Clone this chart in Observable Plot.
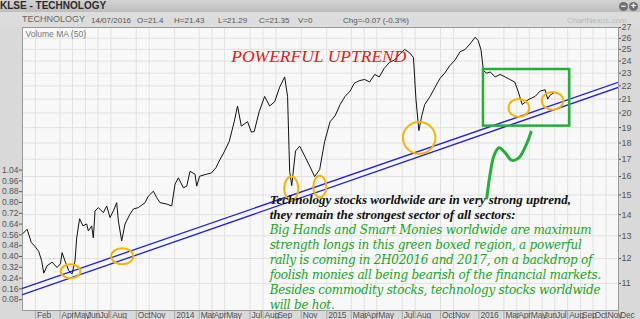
<!DOCTYPE html>
<html>
<head>
<meta charset="utf-8">
<script src="https://cdn.jsdelivr.net/npm/d3@7"></script>
<script src="https://cdn.jsdelivr.net/npm/@observablehq/plot@0.6"></script>
<style>
  html, body { margin: 0; padding: 0; }
  body { width: 640px; height: 319px; overflow: hidden; background: #d9d9d9; font-family: "Liberation Sans", Arial, sans-serif; }
  #bar1 { position: relative; height: 12px; background: linear-gradient(#d2d2d2, #bdbdbd); }
  #bar1 .ttl { position: absolute; left: 0; top: 0; font-size: 10px; line-height: 12px; font-weight: bold; color: #2a2a2a; }
  .btn { position: absolute; top: 2px; width: 9px; height: 9px; border-radius: 50%; background: #6f6f6f; color: #fff; font-size: 9px; line-height: 9px; text-align: center; font-weight: bold; }
  #bar2 { position: relative; height: 15px; background: #dcdcdc; color: #555; font-size: 8px; }
  #bar2 span { position: absolute; top: 3px; line-height: 11px; white-space: nowrap; }
  #chart { position: relative; width: 640px; height: 292px; }
</style>
</head>
<body>
<div id="bar1"><span class="ttl">KLSE - TECHNOLOGY</span><span class="btn" style="left:619px">&minus;</span><span class="btn" style="left:629px">+</span></div>
<div id="bar2"></div>
<div id="chart"></div>
<script>
// ---------- data ----------
const headerItems = ["TECHNOLOGY", "14/07/2016", "O=21.4", "H=21.43", "L=21.29", "C=21.35", "V=0", "Chg=-0.07 (-0.3%)"];
const brand = "ChartNexus.com";

const dates = [
  "2013-01-02","2013-01-12","2013-01-22","2013-02-01","2013-02-09","2013-02-16","2013-02-21","2013-03-01",
  "2013-03-13","2013-03-25","2013-04-02","2013-04-06","2013-04-14","2013-04-22","2013-04-30","2013-05-07",
  "2013-05-11","2013-05-18","2013-05-26","2013-06-04","2013-06-08","2013-06-16","2013-06-20","2013-06-24",
  "2013-07-02","2013-07-14","2013-07-22","2013-07-30","2013-08-07","2013-08-15","2013-08-19","2013-08-27",
  "2013-09-04","2013-09-16","2013-09-24","2013-10-06","2013-10-22","2013-10-30","2013-11-11","2013-11-19",
  "2013-11-27","2013-12-13","2013-12-25","2014-01-02","2014-01-10","2014-01-22","2014-01-30","2014-02-07",
  "2014-02-19","2014-02-23","2014-03-02","2014-03-18","2014-03-30","2014-04-10","2014-04-18","2014-05-01",
  "2014-05-12","2014-05-24","2014-06-01","2014-06-10","2014-06-25","2014-07-04","2014-07-11","2014-07-23",
  "2014-08-05","2014-08-17","2014-08-29","2014-09-10","2014-09-22","2014-09-29","2014-10-04","2014-10-09",
  "2014-10-18","2014-10-28","2014-11-09","2014-11-21","2014-12-03","2014-12-15","2014-12-27","2015-01-09",
  "2015-01-21","2015-02-02","2015-02-14","2015-02-26","2015-03-08","2015-03-20","2015-04-02","2015-04-14",
  "2015-04-26","2015-05-07","2015-05-19","2015-06-01","2015-06-13","2015-06-25","2015-07-07","2015-07-19",
  "2015-07-28","2015-08-03","2015-08-10","2015-08-17","2015-08-24","2015-09-06","2015-09-18","2015-09-30",
  "2015-10-11","2015-10-23","2015-11-05","2015-11-17","2015-11-29","2015-12-11","2015-12-23","2015-12-30",
  "2016-01-06","2016-01-12","2016-01-20","2016-01-28","2016-02-09","2016-02-21","2016-03-04","2016-03-15",
  "2016-03-27","2016-04-04","2016-04-14","2016-04-22","2016-04-28","2016-05-15","2016-05-27","2016-06-08",
  "2016-06-14","2016-06-20","2016-07-01","2016-07-14"
];
const closes = [
  13.1, 13.3, 12.7, 12.5, 12.3, 11.9, 11.4, 11.7,
  11.85, 11.63, 11.78, 12.25, 11.85, 11.5, 11.37, 11.9,
  12.9, 13.8, 13.46, 13.55, 13.22, 13.46, 12.9, 14.18,
  14.35, 14.1, 14.43, 13.86, 14.18, 14.6, 13.69, 12.77,
  13.55, 14.03, 14.28, 14.35, 14.6, 14.94, 15.2, 14.86,
  14.6, 14.53, 14.43, 15.58, 15.93, 15.38, 15.47, 16.3,
  16.13, 15.47, 16.02, 16.13, 16.2, 16.5, 16.9, 17.5,
  18.1, 19.4, 20.5, 19.1, 19.4, 18.7, 18.75, 20.1,
  21.2, 20.5, 20.8, 21.9, 22.7, 21.2, 16.3, 15.5,
  17.5, 17.8, 17.2, 16.6, 16.0, 16.4, 18.1, 19.4,
  19.8, 20.6, 21.2, 21.6, 22.2, 22.4, 22.5, 22.3,
  22.9, 22.7, 23.4, 23.9, 24.1, 24.6, 25.0, 24.7,
  24.3, 21.0, 18.8, 19.8, 20.6, 21.2, 21.9, 22.6,
  23.0, 23.6, 24.1, 24.8, 25.0, 25.5, 26.1, 25.8,
  25.0, 23.2, 23.0, 23.1, 22.7, 22.9, 22.7, 22.5,
  22.3, 21.6, 20.6, 20.8, 20.95, 21.2, 21.6, 21.7,
  21.0, 21.3, 21.5, 21.35
];

const tickDates = [
  "2013-02-01","2013-04-01","2013-05-01","2013-06-01","2013-07-01","2013-08-01","2013-10-01","2013-11-01",
  "2014-01-01","2014-03-01","2014-04-01","2014-05-01","2014-07-01","2014-08-01","2014-09-01","2014-11-01",
  "2015-01-01","2015-03-01","2015-04-01","2015-05-01","2015-07-01","2015-08-01","2015-10-01","2015-11-01",
  "2016-01-01","2016-03-01","2016-04-01","2016-05-01","2016-06-01","2016-07-01","2016-08-01","2016-09-01",
  "2016-10-01","2016-11-01","2016-12-01"
];
const tickLabels = [
  "Feb","Apr","May","Jun","Jul","Aug","Oct","Nov",
  "2014","Mar","Apr","May","Jul","Aug","Sep","Nov",
  "2015","Mar","Apr","May","Jul","Aug","Oct","Nov",
  "2016","Mar","Apr","May","Jun","Jul","Aug","Sep",
  "Oct","Nov","Dec"
];
const priceTicks = [11,12,13,14,15,16,17,18,19,20,21,22,23,24,25,26,27];
const volumeTicks = [0.08,0.16,0.24,0.32,0.40,0.48,0.56,0.64,0.72,0.80,0.88,0.96,1.04];

// support trend channel (two parallel lines)
const trendUpper = [{date: "2013-01-01", price: 10.81}, {date: "2016-12-01", price: 22.28}];
const trendLower = [{date: "2013-01-01", price: 10.57}, {date: "2016-12-01", price: 21.89}];

// orange rings around the touches
const rings = [
  {x1: "2013-04-04", x2: "2013-05-21", y1: 11.18, y2: 11.74},
  {x1: "2013-08-03", x2: "2013-09-25", y1: 11.74, y2: 12.42},
  {x1: "2014-09-22", x2: "2014-10-26", y1: 14.68, y2: 15.97},
  {x1: "2014-12-01", x2: "2015-01-01", y1: 14.84, y2: 16.02},
  {x1: "2015-07-04", x2: "2015-09-20", y1: 17.30, y2: 19.35},
  {x1: "2016-03-13", x2: "2016-05-02", y1: 19.69, y2: 20.98},
  {x1: "2016-06-01", x2: "2016-07-23", y1: 20.20, y2: 21.50}
];
const greenBox = [{x1: "2016-01-12", x2: "2016-08-06", y1: 19.1, y2: 23.3}];
const hookDates = ["2016-01-20","2016-01-27","2016-02-06","2016-02-18","2016-03-04","2016-03-19","2016-04-05","2016-04-22","2016-05-05"];
const hookPrices = [14.84, 16.0, 17.2, 17.7, 17.4, 16.95, 17.07, 17.8, 18.7];

const titleNote = {text: "POWERFUL UPTREND", date: "2014-12-13", price: 24.4};
const noteHead = [
  "Technology stocks worldwide are in very strong uptrend,",
  "they remain the strongest sector of all sectors:"
];
const noteBody = [
  "Big Hands and Smart Monies worldwide are maximum",
  "strength longs in this green boxed region, a powerful",
  "rally is coming in 2H02016 and 2017, on a backdrop of",
  "foolish monies all being bearish of the financial markets.",
  "Besides commodity stocks, technology stocks worldwide",
  "will be hot."
];
const noteAnchor = {date: "2014-08-17", headPrice: 15.1, bodyPrice: 13.6};

// ---------- build ----------
const P = d3.utcParse("%Y-%m-%d");
const prices = dates.map((d, i) => ({date: P(d), close: closes[i]}));
const ticks = tickDates.map(P);
const labelOf = new Map(ticks.map((d, i) => [+d, tickLabels[i]]));
const toPts = arr => arr.map(d => ({date: P(d.date), price: d.price}));
const toBox = arr => arr.map(d => ({x1: P(d.x1), x2: P(d.x2), y1: d.y1, y2: d.y2}));
const hook = hookDates.map((d, i) => ({date: P(d), price: hookPrices[i]}));

const bar2 = document.getElementById("bar2");
const hx = [22, 91, 137, 174, 218, 259, 298, 343];
headerItems.forEach((t, i) => {
  const s = document.createElement("span");
  s.textContent = t; s.style.left = hx[i] + "px";
  if (i === 0) { s.style.fontSize = "9px"; s.style.top = "2px"; s.style.color = "#666"; }
  bar2.appendChild(s);
});
const b = document.createElement("span");
b.textContent = brand; b.style.left = "567px"; b.style.color = "#b9b9b9"; bar2.appendChild(b);

const common = {
  width: 640, height: 292,
  marginLeft: 22, marginRight: 22, marginTop: 0, marginBottom: 9
};
const serifFont = "'DejaVu Serif', 'Liberation Serif', serif";

const main = Plot.plot({
  ...common,
  style: {background: "transparent", overflow: "visible", fontFamily: "'Liberation Sans', Arial, sans-serif"},
  x: {type: "utc", domain: [P("2013-01-01"), P("2016-12-01")]},
  y: {type: "log", domain: [10, 27]},
  marks: [
    Plot.frame({fill: "#f8f8f8", stroke: null}),
    Plot.gridX({ticks, stroke: "#e1e1e1", strokeOpacity: 1}),
    Plot.gridY({ticks: priceTicks, stroke: "#e1e1e1", strokeOpacity: 1}),
    Plot.frame({stroke: "#9a9a9a"}),
    Plot.axisX({ticks, tickFormat: () => "", tickSize: 9, color: "#a8a8a8"}),
    Plot.axisX({ticks, tickFormat: d => labelOf.get(+d), tickSize: 0, tickPadding: 1, textAnchor: "start", dx: 1.5, fontSize: 8.5, color: "#555", className: "xlab"}),
    Plot.axisY({anchor: "right", ticks: priceTicks, tickFormat: d => String(d), tickSize: 2, tickPadding: 1, fontSize: 9, color: "#555"}),
    Plot.line(toPts(trendUpper), {x: "date", y: "price", stroke: "#1f1fe8", strokeWidth: 1.3, clip: true}),
    Plot.line(toPts(trendLower), {x: "date", y: "price", stroke: "#1f1fe8", strokeWidth: 1.3, clip: true}),
    Plot.line(prices, {x: "date", y: "close", stroke: "#111", strokeWidth: 1}),
    Plot.rect(toBox(rings), {x1: "x1", x2: "x2", y1: "y1", y2: "y2", rx: 100, ry: 100, fill: "none", stroke: "#f5b400", strokeWidth: 2}),
    Plot.rect(toBox(greenBox), {x1: "x1", x2: "x2", y1: "y1", y2: "y2", fill: "none", stroke: "#22b03a", strokeWidth: 2.5}),
    Plot.line(hook, {x: "date", y: "price", curve: "catmull-rom", stroke: "#22b03a", strokeWidth: 3, strokeLinecap: "round"}),
    Plot.text([titleNote], {x: d => P(d.date), y: "price", text: "text", fill: "#e31b1b", fontSize: 17.5, fontStyle: "italic", fontFamily: "'Liberation Serif', serif", textAnchor: "middle"}),
    Plot.text([noteHead.join("\n")], {x: () => P(noteAnchor.date), y: () => noteAnchor.headPrice, text: d => d, textAnchor: "start", lineAnchor: "top", lineHeight: 1.15, fontSize: 13, fontWeight: "bold", fontStyle: "italic", fontFamily: "'Liberation Serif', serif", fill: "#111"}),
    Plot.text([noteBody.join("\n")], {x: () => P(noteAnchor.date), y: () => noteAnchor.bodyPrice, text: d => d, textAnchor: "start", lineAnchor: "top", lineHeight: 1.25, fontSize: 12, fontStyle: "italic", fontFamily: serifFont, fill: "#17a51c", className: "body"})
  ]
});
main.querySelectorAll(".xlab text").forEach(t => t.setAttribute("letter-spacing", "-0.2"));
main.querySelectorAll(".body text").forEach(t => t.setAttribute("letter-spacing", "-0.25"));

const vol = Plot.plot({
  ...common,
  style: {background: "transparent", overflow: "visible", position: "absolute", left: "0px", top: "0px", fontFamily: "'Liberation Sans', Arial, sans-serif"},
  y: {domain: [0, 2.096]},
  marks: [
    Plot.axisY({anchor: "left", ticks: volumeTicks, tickFormat: d3.format(".2f"), tickSize: 3, tickPadding: 1, fontSize: 8.5, color: "#555"}),
    Plot.text(["Volume MA (50)"], {frameAnchor: "top-left", dx: 3, dy: 3, textAnchor: "start", lineAnchor: "top", fontSize: 8.5, fill: "#777"})
  ]
});

const chart = document.getElementById("chart");
chart.appendChild(main);
chart.appendChild(vol);
</script>
</body>
</html>
